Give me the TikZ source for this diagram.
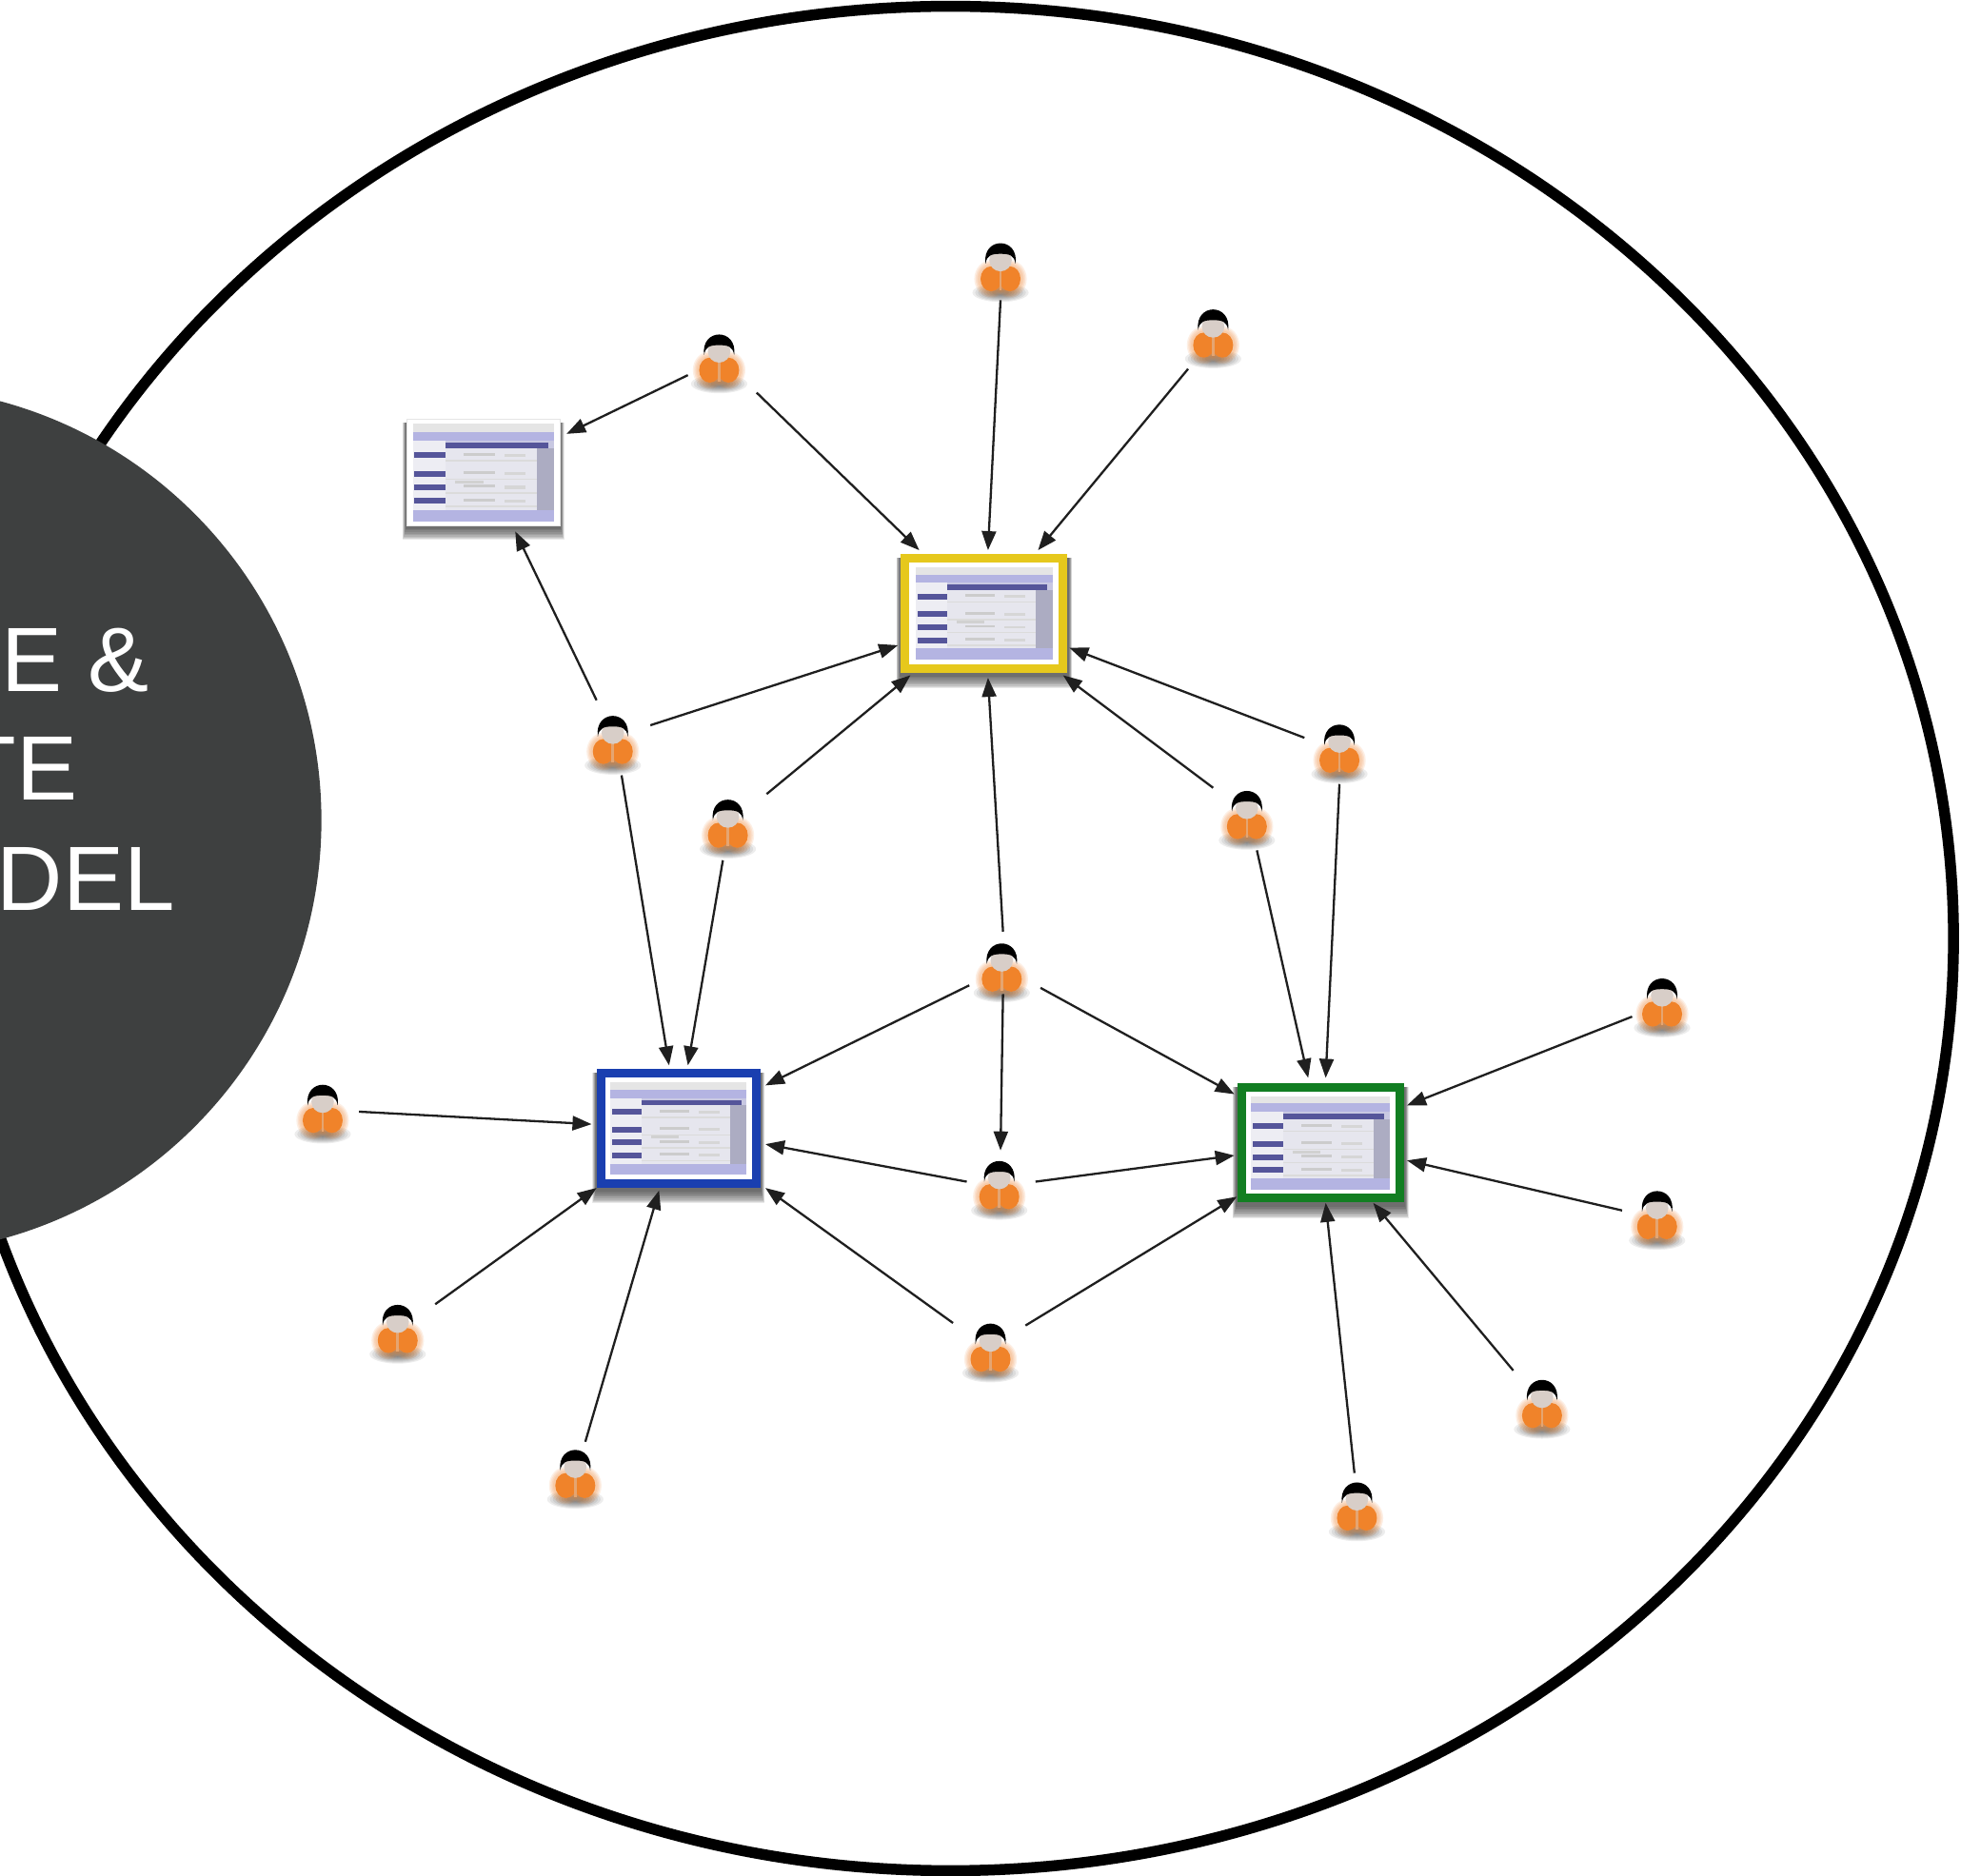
\documentclass[tikz,border=0pt]{standalone}
\usepackage{fontspec}
\setmainfont{Liberation Sans}
\usetikzlibrary{arrows.meta,calc,shapes.geometric}
\definecolor{darkdisc}{HTML}{3E4040}
\definecolor{frameyellow}{HTML}{E6C81C}
\definecolor{frameblue}{HTML}{1A3FB0}
\definecolor{framegreen}{HTML}{127E22}
\definecolor{lilac}{HTML}{B4B4E2}
\definecolor{navy}{HTML}{55559A}
\definecolor{pagegrey}{HTML}{C8C8E2}
\definecolor{cell}{HTML}{E6E6EE}
\definecolor{bodyorange}{HTML}{F0832A}
\definecolor{skin}{HTML}{D8CEC8}
\tikzset{
  conn/.style={draw=black!88,line width=2.3pt,-{Triangle[length=20pt,width=15pt]}},
  personnode/.style={inner sep=0pt,minimum size=40pt,outer sep=0pt},
  framed/.style={rectangle,inner sep=0pt,outer sep=0pt,line width=9pt,fill=white,minimum width=166pt,minimum height=116pt},
  labeltext/.style={text=white,inner sep=0pt,font=\fontsize{96}{110}\selectfont},
  personicon/.pic={
    \foreach \f in {1.5,1.35,1.2,1.05,.9,.75,.6,.45}{\fill[black,opacity=.07] (0,17) ellipse [x radius=15*\f,y radius=5*\f];}
    \foreach \f in {1.5,1.38,1.26,1.14}{
      \fill[bodyorange,opacity=.12] (-7.5,6) ellipse [x radius=9*\f,y radius=10*\f];
      \fill[bodyorange,opacity=.12] ( 7.5,6) ellipse [x radius=9*\f,y radius=10*\f];}
    \fill[bodyorange] (-7.5,6) ellipse [x radius=8.5,y radius=10];
    \fill[bodyorange] ( 7.5,6) ellipse [x radius=8.5,y radius=10];
    \fill[bodyorange!55!skin] (-1,-2) rectangle (1,15);
    \fill[skin] (0,-9) ellipse [x radius=9,y radius=9];
    \fill[black] (-12,-6) .. controls (-15,-28) and (15,-28) .. (12,-6)
       .. controls (11,-13) and (7,-14) .. (0,-14) .. controls (-7,-14) and (-11,-13) .. (-12,-6) -- cycle;
  },
  softshadow/.pic={
    \foreach \f/\d in {1.05/.63,1.045/.62,1.04/.61,1.035/.60,1.03/.59,1.025/.575,1.02/.56,1.015/.545,1.01/.53}{
      \fill[black,opacity=.085] (-.5*\f,-.47) rectangle (.5*\f,\d);}
  },
  screen/.pic={
    \fill[pagegrey] (-.5,-.5) rectangle (.5,.5);
    \fill[black!10] (-.5,-.5) rectangle (.5,-.42);
    \fill[lilac] (-.5,-.42) rectangle (.5,-.33);
    \fill[cell!70!white] (-.5,-.33) rectangle (-.27,.38);
    \fill[navy] (-.27,-.31) rectangle (.46,-.25);
    \fill[cell] (-.27,-.25) rectangle (.38,.38);
    \fill[black!14!pagegrey] (.38,-.25) rectangle (.5,.38);
    \fill[lilac] (-.5,.38) rectangle (.5,.5);
    \foreach \r in {-.18,.01,.15,.29}{
      \fill[navy] (-.49,\r-.03) rectangle (-.27,\r+.03);
      \fill[black!14] (-.27,\r+.05) rectangle (.38,\r+.065);
      \fill[black!20] (-.14,\r-.025) rectangle (.08,\r+.005);
      \fill[black!16] (.15,\r-.015) rectangle (.3,\r+.015);
    }
    \fill[black!18] (-.2,.08) rectangle (0,.11);
  },
}
\begin{document}
\begin{tikzpicture}[x=1.3138pt,y=-1.3138pt]
\clip (0,0) rectangle (1568,1500.2);
\fill[white] (0,0) rectangle (1568,1500.2);
% large outer ellipse
\draw[black,line width=11.5pt] (760,750.5) ellipse [x radius=802,y radius=745.5];
% dark disc and its label
\fill[darkdisc] (-90,656) circle [radius=347];
\node[labeltext,anchor=base east] (lineone) at (119,553) {E \&};
\node[labeltext,anchor=base east] (linetwo) at (62,640) {TE};
\node[labeltext,anchor=base east] (linethree) at (140,728) {DEL};

% screens
\pic[xscale=123,yscale=85] at (386.5,378) {softshadow};
\node[rectangle,inner sep=0pt,outer sep=0pt,fill=white,draw=black!10,line width=1pt,minimum width=161pt,minimum height=112pt] (wb) at (386.5,378) {};
\pic[xscale=113,yscale=78] at (wb) {screen};

\pic[xscale=134,yscale=95] at (787,490.5) {softshadow};
\node[framed,draw=frameyellow] (yb) at (787,490.5) {};
\pic[xscale=109,yscale=74] at (yb) {screen};

\pic[xscale=131,yscale=95] at (542.5,902.5) {softshadow};
\node[framed,draw=frameblue,minimum width=163pt] (bb) at (542.5,902.5) {};
\pic[xscale=109,yscale=74] at (bb) {screen};

\pic[xscale=134,yscale=96] at (1056,914) {softshadow};
\node[framed,draw=framegreen] (gb) at (1056,914) {};
\pic[xscale=111,yscale=75] at (gb) {screen};

% people
\node[personnode] (p1) at (800,217) {};
\node[personnode] (p2) at (970,270) {};
\node[personnode] (p3) at (575,290) {};
\node[personnode] (p4) at (490,595) {};
\node[personnode] (p5) at (582,662) {};
\node[personnode] (p6) at (997,655) {};
\node[personnode] (p7) at (1071,602) {};
\node[personnode] (p8) at (801,777) {};
\node[personnode] (p9) at (799,951) {};
\node[personnode] (p10) at (258,890) {};
\node[personnode] (p11) at (318,1066) {};
\node[personnode] (p12) at (460,1182) {};
\node[personnode] (p13) at (792,1081) {};
\node[personnode] (p14) at (1329,805) {};
\node[personnode] (p15) at (1325,975) {};
\node[personnode] (p16) at (1233,1126) {};
\node[personnode] (p17) at (1085,1208) {};
\foreach \n in {p1,p2,p3,p4,p5,p6,p7,p8,p9,p10,p11,p12,p13,p14,p15,p16,p17}{\pic at (\n) {personicon};}

% connectors
\draw[conn] ($(p3)+(-25,10)$) -- ($(wb)+(66.5,-31)$);
\draw[conn] ($(p3)+(30,24)$) -- ($(yb)+(-52,-50.5)$);
\draw[conn] ($(p1)+(0,23)$) -- ($(yb)+(3,-50.5)$);
\draw[conn] ($(p2)+(-20,25)$) -- ($(yb)+(43,-50.5)$);
\draw[conn] ($(p4)+(-13,-35)$) -- ($(wb)+(25.5,47)$);
\draw[conn] ($(p4)+(30,-15)$) -- ($(yb)+(-69,25.5)$);
\draw[conn] ($(p5)+(31,-27)$) -- ($(yb)+(-59,49.5)$);
\draw[conn] ($(p7)+(-28,-12)$) -- ($(yb)+(68,27.5)$);
\draw[conn] ($(p6)+(-27,-25)$) -- ($(yb)+(63,49.5)$);
\draw[conn] ($(p8)+(1,-32)$) -- ($(yb)+(3,51.5)$);
\draw[conn] ($(p4)+(7,25)$) -- ($(bb)+(-7.5,-50.5)$);
\draw[conn] ($(p5)+(-4,26)$) -- ($(bb)+(7.5,-50.5)$);
\draw[conn] ($(p6)+(8,25)$) -- ($(gb)+(-10,-52)$);
\draw[conn] ($(p7)+(0,25)$) -- ($(gb)+(4,-52)$);
\draw[conn] ($(p8)+(-26,11)$) -- ($(bb)+(69.5,-34.5)$);
\draw[conn] ($(p8)+(31,13)$) -- ($(gb)+(-69,-39)$);
\draw[conn] ($(p8)+(1,18)$) -- ($(p9)+(1,-31)$);
\draw[conn] ($(p9)+(-26,-6)$) -- ($(bb)+(69.5,12.5)$);
\draw[conn] ($(p9)+(29,-6)$) -- ($(gb)+(-69,10)$);
\draw[conn] ($(p10)+(29,-1)$) -- ($(bb)+(-69.5,-3.5)$);
\draw[conn] ($(p11)+(30,-23)$) -- ($(bb)+(-65.5,47.5)$);
\draw[conn] ($(p12)+(8,-29)$) -- ($(bb)+(-15.5,49.5)$);
\draw[conn] ($(p13)+(-30,-23)$) -- ($(bb)+(69.5,47.5)$);
\draw[conn] ($(p13)+(28,-21)$) -- ($(gb)+(-67,43)$);
\draw[conn] ($(p14)+(-24,8)$) -- ($(gb)+(69,-30)$);
\draw[conn] ($(p15)+(-28,-7)$) -- ($(gb)+(69,14)$);
\draw[conn] ($(p16)+(-23,-30)$) -- ($(gb)+(42,48)$);
\draw[conn] ($(p17)+(-2,-30)$) -- ($(gb)+(4,48)$);
\end{tikzpicture}
\end{document}
